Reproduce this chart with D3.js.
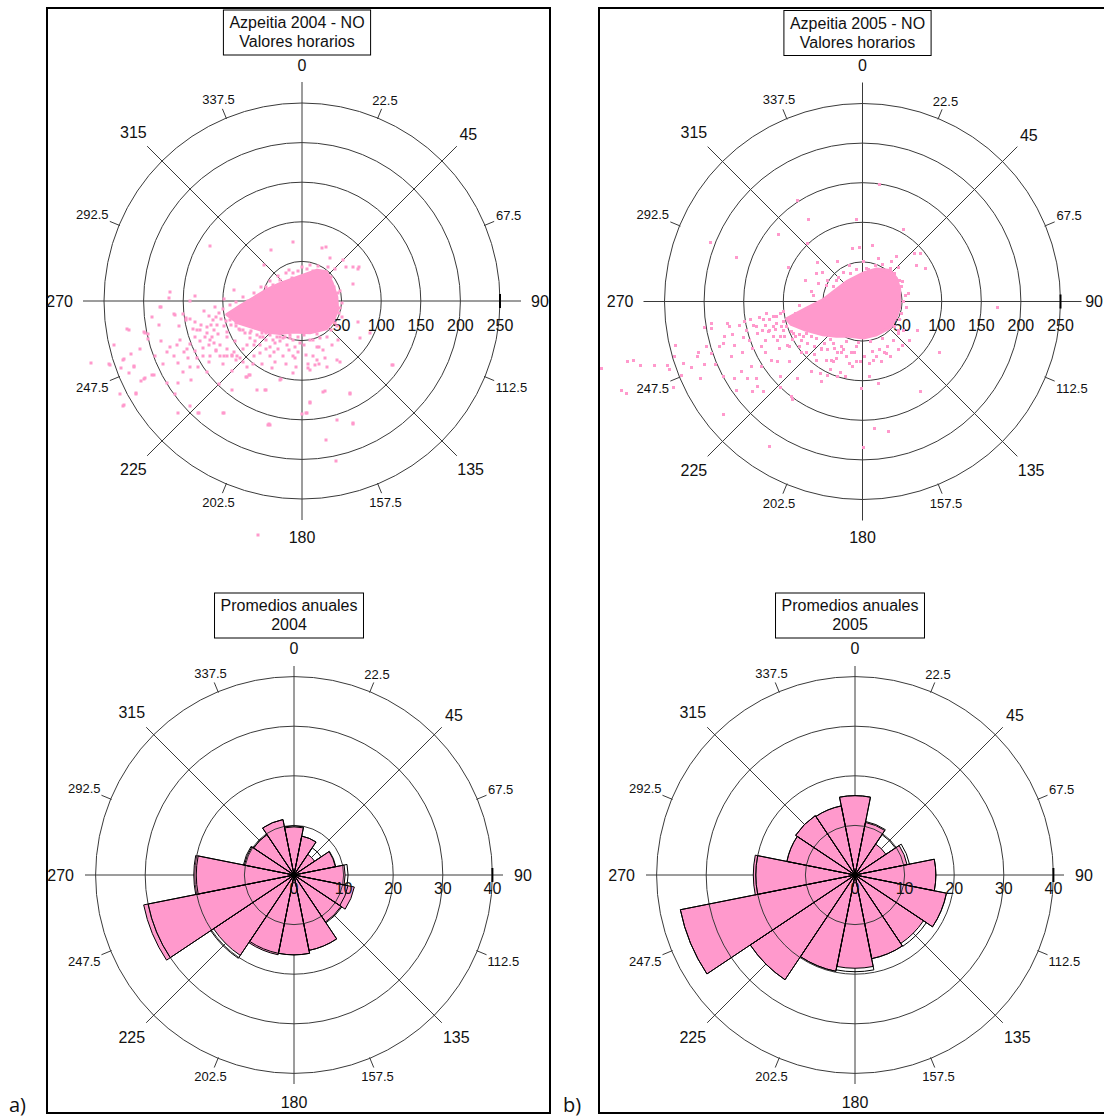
<!DOCTYPE html>
<html><head><meta charset="utf-8">
<script src="https://cdn.jsdelivr.net/npm/d3@7"></script>
<style>
body{margin:0;background:#fff}
svg{display:block}
text{font-family:"Liberation Sans",Arial,sans-serif;fill:#111}
</style>
</head><body>
<svg id="c" width="1104" height="1117"></svg>
<script>
// ---------------- DATA ----------------
const majorDirs = [0, 45, 90, 135, 180, 225, 270, 315];
const minorDirs = [22.5, 67.5, 112.5, 157.5, 202.5, 247.5, 292.5, 337.5];
const minorLabels = ["22.5", "67.5", "112.5", "157.5", "202.5", "247.5", "292.5", "337.5"];
const scatterRingValues = [50, 100, 150, 200, 250];
const scatterRadialLabels = [0, 50, 100, 150, 200, 250];
const roseRingValues = [10, 20, 30, 40];
const roseRadialLabels = [0, 10, 20, 30, 40];
const sectorDirs = [0, 22.5, 45, 67.5, 90, 112.5, 135, 157.5, 180, 202.5, 225, 247.5, 270, 292.5, 315, 337.5];

// annual mean NO by wind sector (filled) and second statistic (outline)
const rose2004Fill    = [9.7, 8.0, 5.0, 8.5, 10.3, 12.4, 11.4, 15.5, 16.1, 16.4, 19.5, 30.9, 20.2, 10.2, 9.8, 11.4];
const rose2004Outline = [9.9, 8.0, 6.6, 8.6, 10.9, 11.1, 11.6, 15.5, 16.1, 16.1, 20.2, 30.0, 19.7, 10.4, 9.8, 11.4];
const rose2005Fill    = [16.0, 10.8, 7.5, 10.7, 16.3, 18.8, 16.6, 17.2, 18.8, 19.8, 25.4, 35.9, 20.5, 14.0, 14.4, 14.2];
const rose2005Outline = [16.0, 11.0, 9.8, 11.2, 16.3, 18.8, 17.3, 17.2, 19.5, 19.8, 25.4, 35.9, 20.0, 14.0, 14.4, 14.2];

// hourly values as [east, north] components of NO (µg/m3) by wind direction
const core2004 = [[-95,-17],[-78,-6],[-61,4],[-45,14],[-28,22],[-3,31],[19,39],[31,37],[38,23],[44,5],[45,-11],[40,-24],[31,-35],[10,-40],[-11,-39],[-28,-41],[-45,-39],[-61,-34],[-80,-28]];
const pts2004 = [
[-116,69],[-11,74],[-39,65],[-48,46],[-167,11],[-168,4],[-135,6],[-86,14],[-142,0],[-68,0],[-178,-7],[-160,-18],[-155,-31],[-219,-36],[-238,-56],[-266,-78],[-243,-81],[-226,-74],[-216,-67],[-228,-84],[-212,-83],[-230,-118],[-226,-132],[-210,-117],[-203,-101],[-198,-97],[-189,-94],[-194,-42],[-198,-40],[-195,-48],[-178,-51],
[-147,-21],[-141,-23],[-135,-27],[-137,-35],[-132,-37],[-127,-30],[-124,-13],[-118,-19],[-113,-24],[-120,-33],[-111,-37],[-107,-30],[-102,-23],[-99,-32],[-95,-39],[-106,-42],[-114,-46],[-122,-46],[-129,-50],[-135,-45],[-141,-54],[-145,-60],[-135,-63],[-125,-59],[-118,-56],[-111,-53],[-103,-56],[-95,-60],[-86,-64],[-82,-69],[-89,-69],[-95,-70],[-104,-69],[-108,-63],[-116,-69],[-125,-70],[-131,-83],[-118,-77],[-154,-49],[-158,-56],[-167,-58],[-170,-64],[-161,-70],[-156,-78],[-149,-65],[-144,-72],[-133,-72],[-141,-83],
[-170,-104],[-157,-104],[-160,-117],[-156,-141],[-141,-133],[-131,-142],[-105,-105],[-99,-142],[-88,-113],[-71,-96],[-67,-93],[-70,-83],[-75,-77],[-83,-75],[-61,-69],[-53,-66],[-40,-70],[-53,-56],[-28,-100],[-11,-91],[7,-79],[8,-84],[10,-129],[0,-143],[6,-141],[-41,-157],[-45,-112],[-57,-113],[-51,-79],[-34,-77],[-24,-70],[-17,-62],
[-91,-5],[-83,-1],[-87,-16],[-83,-28],[-78,-37],[-72,-41],[-66,-47],[-59,-51],[-53,-45],[-45,-49],[-34,-53],[-28,-51],[-19,-56],[-11,-49],[-3,-53],[14,-49],[19,-58],[14,-70],[21,-79],
[25,67],[30,68],[35,54],[52,52],[33,43],[42,41],[56,43],[64,43],[71,41],[65,22],[46,10],[48,-9],[50,-20],[44,-32],[37,-37],[71,-27],[73,-47],[86,-41],[45,-49],[38,-56],[27,-62],[21,-58],[16,-81],[31,-83],[48,-77],[-9,-72],[-26,-98],[115,-81],[61,-117],[26,-115],[44,-150],[65,-155],[-43,-156],
[-17,39],[-11,35],[0,43],[6,40],[14,38],[-28,27],[-36,20],[-45,18],[-13,29],[10,45],
[-45,-41],[-36,-49],[-28,-45],[-15,-47],[-5,-45],[10,-49],[23,-47],[31,-45],[-40,-58],[-30,-60],[-9,-58],[2,-56],
[-55,-295],[-221,-35],[-244,-80],[-225,-131],[-100,-141],[-130,-141],[-42,-155],[5,-141],[30,-175],[43,-202],[65,-154],[61,-116],[29,-114],[10,-127],[114,-81],[72,43],[-179,-8],[-162,-16],[-200,-39],[-225,-73],[-212,-82],[-219,-91],[-200,-98],[-187,-93],[-209,-116],
[-100,-10],[-96,-25],[-105,-15],[-110,-8],[-98,3],[-75,5],[-60,10],[-52,18],[-40,25],[-30,32],[-20,35],[-5,38],[-22,-45],[-50,-40],[-65,-38],[-80,-35],[-90,-30],[48,12],[50,-2],[47,-15],[42,-28],[36,30],[40,18],[20,44],[-60,-55],[-45,-60],[-70,-55],[-35,-65],[-5,-65],[5,-68],[-20,-80],[-38,-85],[-62,-80],[-88,-88],[-120,-90],[-100,-80],[-150,-90],[-140,-100],[-175,-80],[-185,-70],[-190,-20],[-205,-60],[-180,-30],
[-150,-16],[-146,-24],[-129,-37],[-116,-49],[-108,-62],[-99,-69],[-89,-68],[-78,-72],[-70,-96],[-66,-93],[-47,-112],[-7,-83],[10,-87],[-11,-70],[19,-75],[29,-72],[44,-75],
[-91,-24],[-83,-32],[-74,-37],[-66,-41],[-57,-43],[-49,-45],[-40,-43],[-32,-45],[-24,-47],[-15,-43],[2,-43],[19,-42],[-115,-30],[-108,-20],[-95,-46],[-85,-50],[-75,-60],[-120,-40]
];

const core2005 = [[-96,-22],[-83,-15],[-70,-8],[-50,2],[-37,12],[-20,25],[1,36],[18,41],[35,39],[43,29],[47,15],[47,-7],[43,-19],[35,-33],[18,-42],[1,-46],[-16,-44],[-33,-44],[-50,-42],[-72,-36],[-90,-29]];
const pts2005 = [
[-82,127],[-68,104],[-106,84],[-192,75],[-159,55],[-93,43],[-57,49],[-50,36],[-72,27],[-56,23],[-65,13],[-44,27],[-58,35],[-32,50],[-69,73],
[-330,-84],[-297,-76],[-289,-74],[-280,-81],[-262,-81],[-246,-81],[-244,-86],[-236,-55],[-226,-78],[-237,-69],[-304,-112],[-298,-116],[-239,-108],[-228,-93],[-216,-83],[-208,-70],[-207,-64],[-197,-57],[-199,-80],[-205,-97],[-200,-33],[-191,-28],[-191,-34],[-191,-66],[-185,-80],[-180,-57],[-176,-53],[-174,-44],[-168,-32],[-170,-28],[-164,-42],[-161,-55],[-175,-143],[-166,-70],[-176,-95],[-159,-113],[-161,-97],[-153,-89],[-152,-65],[-149,-25],[-147,-36],[-143,-49],[-139,-59],[-137,-30],[-133,-40],[-140,-82],[-145,-97],[-139,-114],[-132,-107],[-125,-114],[-134,-97],[-128,-82],[-128,-57],[-123,-49],[-126,-36],[-123,-30],[-119,-38],[-117,-23],[-113,-44],[-113,-32],[-107,-49],[-105,-59],[-107,-76],[-103,-95],[-115,-74],[-123,-65],[-109,-19],[-102,-32],[-98,-44],[-92,-57],[-92,-76],[-90,-120],[-88,-124],[-82,-97],[-77,-65],[-79,-57],[-71,-65],[-65,-89],[-58,-74],[-53,-91],[-44,-93],[-39,-74],[-52,-101],[-31,-95],[-103,-108],[-117,-183],[-100,-13],
[21,148],[-7,104],[52,91],[12,71],[-4,68],[43,57],[37,50],[20,54],[-31,50],[68,45],[80,42],[73,60],[66,61],[45,43],[58,10],[52,0],[46,15],[56,-7],[69,-36],[59,-49],[46,-41],[41,-32],[45,-61],[35,-70],[50,-55],[97,-65],[22,-61],[28,-65],[14,-74],[9,-78],[24,-76],[-3,-76],[-12,-82],[-16,-78],[9,-95],[20,-104],[-1,-110],[-28,-90],[-22,-95],[-41,-86],[-37,-76],[-26,-65],[-33,-72],[73,-114],[15,-160],[33,-164],[1,-184],[-52,-61],[-45,-74],
[-12,67],[1,50],[7,40],[-7,40],[-24,36],[-33,27],[-37,19],[-16,46],[16,46],[35,42],
[49,19],[47,27],[54,8],[49,-15],[47,-23],[45,-36],[171,-8],
[-37,-53],[-24,-61],[-7,-57],[12,-63],[18,-70],[31,-57],[39,-49],[52,-36],
[-142,-23],[-134,-32],[-125,-23],[-117,-36],[-108,-28],[-100,-36],[-113,-19],[-121,-15],[-104,-15],[-96,-32],[-87,-40],[-79,-42],[-71,-40],[-104,-44],
[-90,-38],[-84,-44],[-77,-49],[-69,-53],[-60,-57],[-52,-59],[-44,-61],[-35,-59],[-27,-57],[-81,-32],[-65,-44],[-48,-53],[-31,-65],[-20,-70],[-14,-65],[-8,-76],
[-80,-5],[-62,8],[-45,20],[-30,30],[-15,35],[5,42],[25,47],[40,35],[50,25],[-85,-15],
[-20,-50],[-5,-52],[10,-50],[25,-47],[-40,-48],[-58,-47],[-75,-44],[-88,-48],[-100,-25],[-110,-35],[-95,-55],[-60,-67],[-10,-65],[2,-70],[30,-66],[-130,-20],[-155,-30],[-150,-45]
];

const titles2004Scatter = ["Azpeitia 2004 - NO", "Valores horarios"];
const titles2005Scatter = ["Azpeitia 2005 - NO", "Valores horarios"];
const titles2004Rose = ["Promedios anuales", "2004"];
const titles2005Rose = ["Promedios anuales", "2005"];
const panelLetters = ["a)", "b)"];

// ---------------- DRAWING ----------------
const PINK = "#ff99cc";
const GRID = "#3a3a3a";
const W = 1104;
const svg = d3.select("#c");
svg.append("rect").attr("width", W).attr("height", 1117).attr("fill", "#fff");

// panel frames
svg.append("rect").attr("x", 47).attr("y", 8).attr("width", 503).attr("height", 1105)
  .attr("fill", "none").attr("stroke", "#000").attr("stroke-width", 2);
svg.append("rect").attr("x", 599).attr("y", 8).attr("width", 520).attr("height", 1105)
  .attr("fill", "none").attr("stroke", "#000").attr("stroke-width", 2);
svg.selectAll("text.letter").data(panelLetters).enter().append("text")
  .attr("class", "letter")
  .attr("x", (d, i) => i === 0 ? 9 : 563).attr("y", 1112)
  .style("font-family", "'Open Sans', sans-serif").style("font-size", "20px")
  .text(d => d);

const rad = d => d * Math.PI / 180;
function polar(r, deg) { const a = rad(deg); return [r * Math.sin(a), -r * Math.cos(a)]; }

function drawFrame(g, cfg, r) {
  g.selectAll("line.spoke").data(majorDirs).enter().append("line")
    .attr("x1", 0).attr("y1", 0)
    .attr("x2", d => polar(cfg.spokeLen, d)[0]).attr("y2", d => polar(cfg.spokeLen, d)[1])
    .attr("stroke", GRID).attr("stroke-width", 1);
}

function drawRings(g, cfg, r, rings) {
  g.selectAll("circle.ring").data(rings).enter().append("circle")
    .attr("r", d => r(d)).attr("fill", "none").attr("stroke", GRID).attr("stroke-width", 1);
  const rMax = r(cfg.max);
  g.selectAll("line.mtick").data(minorDirs).enter().append("line")
    .attr("x1", d => polar(rMax - 1, d)[0]).attr("y1", d => polar(rMax - 1, d)[1])
    .attr("x2", d => polar(rMax + 10, d)[0]).attr("y2", d => polar(rMax + 10, d)[1])
    .attr("stroke", GRID).attr("stroke-width", 1);
  g.append("line").attr("x1", rMax).attr("x2", rMax).attr("y1", -7).attr("y2", 7)
    .attr("stroke", "#000").attr("stroke-width", 2);
}

function placeLabels(g, cfg, list, dirs, r0, h, size) {
  const t = g.selectAll(null).data(list).enter().append("text")
    .style("font-size", size + "px").attr("text-anchor", "middle")
    .attr("dominant-baseline", "central").text(d => d);
  t.each(function (d, i) {
    const w = this.getComputedTextLength();
    const a = rad(dirs[i]);
    const rr = r0 + Math.max(Math.abs(Math.sin(a)) * w / 2, Math.abs(Math.cos(a)) * h / 2);
    const p = polar(rr, dirs[i]);
    // keep the label inside the page
    const maxX = W - 1 - cfg.cx - w / 2;
    d3.select(this).attr("x", Math.min(p[0], maxX)).attr("y", p[1]);
  });
}

function drawLabels(g, cfg, r, radialLabels) {
  placeLabels(g, cfg, majorDirs.map(String), majorDirs, cfg.labelR0, 14, 16);
  placeLabels(g, cfg, minorLabels, minorDirs, 212, 10, 13);
  g.selectAll("text.rl").data(radialLabels).enter().append("text")
    .attr("class", "rl").style("font-size", "16px").attr("text-anchor", "middle")
    .attr("dominant-baseline", "central")
    .attr("x", d => r(d)).attr("y", cfg.radialDy).text(d => d);
}

function drawTitle(g, cfg, lines) {
  const tg = g.append("g");
  const texts = tg.selectAll("text").data(lines).enter().append("text")
    .style("font-size", "16px").attr("text-anchor", "middle").attr("dominant-baseline", "central")
    .attr("x", -5).attr("y", (d, i) => cfg.titleTop + 12.5 + i * 19).text(d => d);
  let w = 0;
  texts.each(function () { w = Math.max(w, this.getComputedTextLength()); });
  tg.insert("rect", "text").attr("x", -5 - (w + 12) / 2).attr("y", cfg.titleTop)
    .attr("width", w + 12).attr("height", 45).attr("fill", "#fff")
    .attr("stroke", "#000").attr("stroke-width", 1);
}

function scatterChart(cfg, pts, core, title) {
  const g = svg.append("g").attr("transform", `translate(${cfg.cx},${cfg.cy})`);
  const r = d3.scaleLinear().domain([0, cfg.max]).range([0, cfg.rMax]);
  const toXY = d => { const a = Math.atan2(d[0], d[1]) * 180 / Math.PI; return polar(r(Math.hypot(d[0], d[1])), a); };
  drawFrame(g, cfg, r);
  drawRings(g, cfg, r, scatterRingValues);
  drawLabels(g, cfg, r, scatterRadialLabels);
  drawTitle(g, cfg, title);
  const line = d3.line().x(d => toXY(d)[0]).y(d => toXY(d)[1]).curve(d3.curveLinearClosed);
  g.append("path").attr("d", line(core)).attr("fill", PINK).attr("stroke", PINK)
    .attr("stroke-width", 3).attr("stroke-linejoin", "round");
  g.selectAll("rect.pt").data(pts).enter().append("rect").attr("class", "pt")
    .attr("x", d => Math.round(toXY(d)[0]) - 1.5).attr("y", d => Math.round(toXY(d)[1]) - 1.5)
    .attr("width", 3).attr("height", 3).attr("fill", PINK);
}

function roseChart(cfg, fillVals, outlineVals, title) {
  const g = svg.append("g").attr("transform", `translate(${cfg.cx},${cfg.cy})`);
  const r = d3.scaleLinear().domain([0, cfg.max]).range([0, cfg.rMax]);
  const arc = d3.arc().innerRadius(0).outerRadius(d => r(d.v))
    .startAngle(d => rad(d.dir - 11.25)).endAngle(d => rad(d.dir + 11.25));
  drawFrame(g, cfg, r);
  g.selectAll("path.sec").data(sectorDirs.map((d, i) => ({ dir: d, v: fillVals[i] }))).enter()
    .append("path").attr("d", arc).attr("fill", PINK).attr("stroke", "#000").attr("stroke-width", 1);
  drawRings(g, cfg, r, roseRingValues);
  g.selectAll("path.out").data(sectorDirs.map((d, i) => ({ dir: d, v: outlineVals[i] }))).enter()
    .append("path").attr("d", arc).attr("fill", "none").attr("stroke", "#000").attr("stroke-width", 1);
  drawLabels(g, cfg, r, roseRadialLabels);
  drawTitle(g, cfg, title);
}

const topCfg = { max: 250, rMax: 198, spokeLen: 219, labelR0: 229, radialDy: 24, titleTop: -291 };
const botCfg = { max: 40, rMax: 198.4, spokeLen: 209, labelR0: 220, radialDy: 13, titleTop: -282 };

scatterChart(Object.assign({ cx: 302, cy: 301 }, topCfg), pts2004, core2004, titles2004Scatter);
scatterChart(Object.assign({ cx: 862.5, cy: 301.5 }, topCfg), pts2005, core2005, titles2005Scatter);
roseChart(Object.assign({ cx: 294, cy: 875 }, botCfg), rose2004Fill, rose2004Outline, titles2004Rose);
roseChart(Object.assign({ cx: 855, cy: 875 }, botCfg), rose2005Fill, rose2005Outline, titles2005Rose);
</script>
</body></html>
